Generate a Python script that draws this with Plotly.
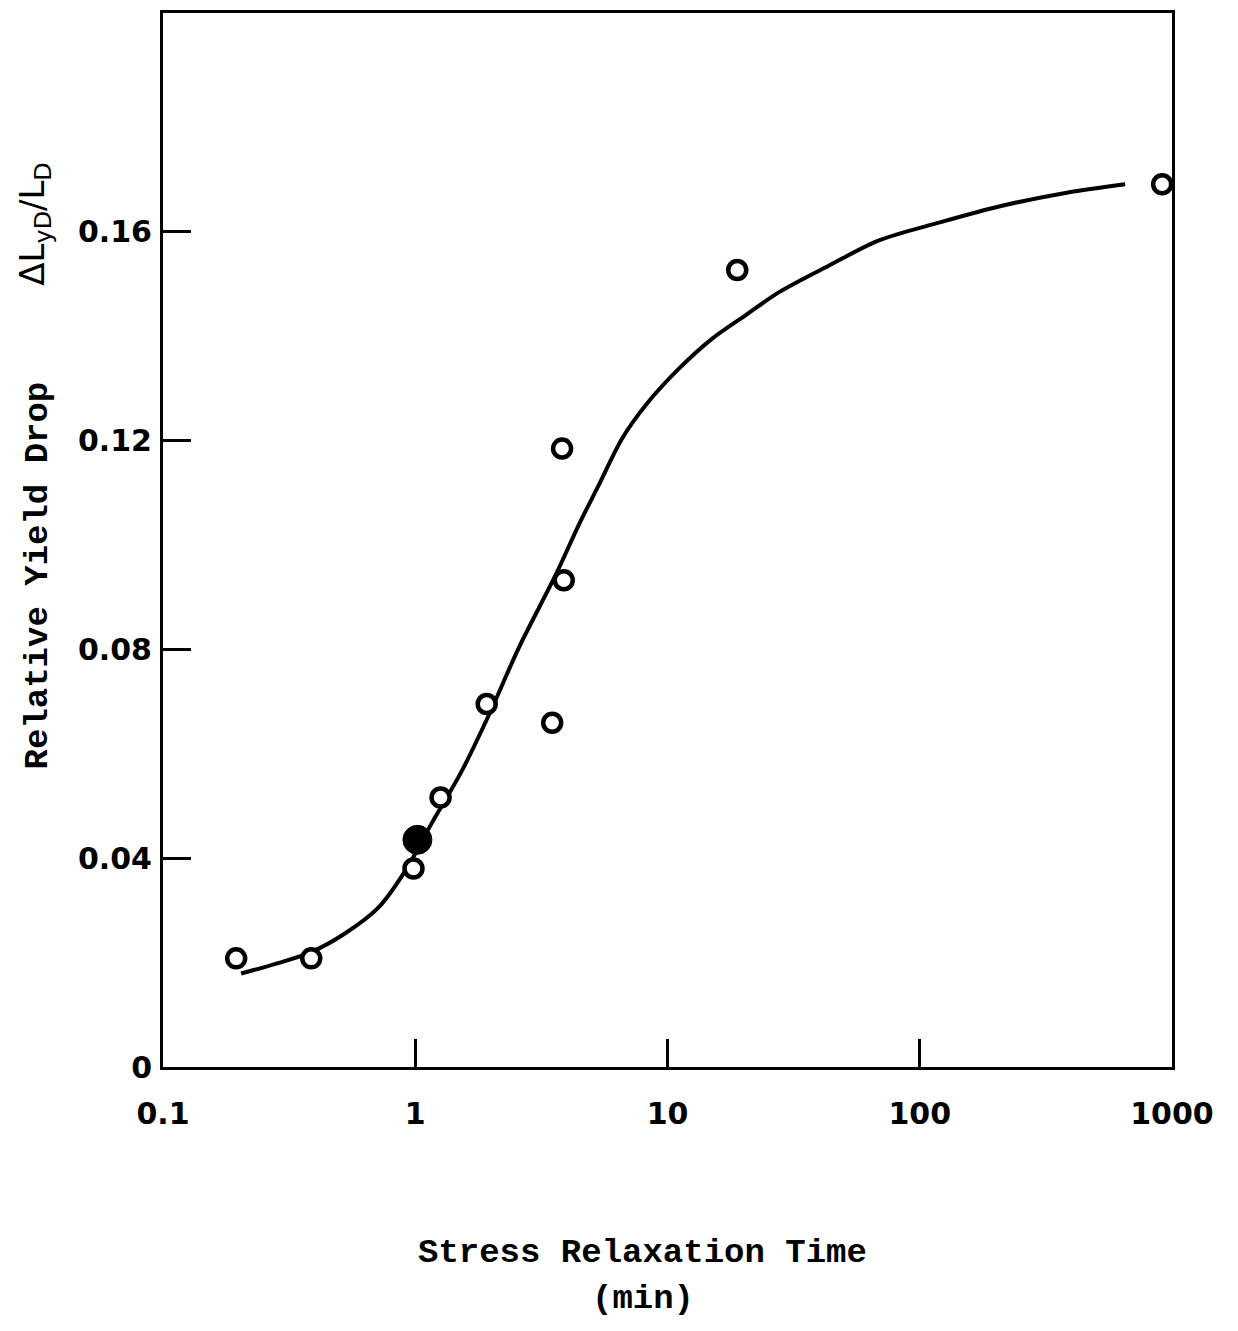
import plotly.graph_objects as go

# Measured data points (stress relaxation time in min, relative yield drop)
time_open = [0.195, 0.387, 0.984, 1.26, 1.92, 3.49, 3.88, 3.82, 18.9, 914]
drop_open = [0.0208, 0.0208, 0.0380, 0.0516, 0.0695, 0.0659, 0.0932, 0.1184, 0.1526, 0.1690]

time_filled = [1.02]
drop_filled = [0.0435]

# Hand-drawn fitted curve
curve_time = [0.204, 0.286, 0.387, 0.528, 0.714, 0.914, 1.16, 1.53, 1.95, 2.57,
              3.61, 4.46, 5.35, 6.60, 8.22, 11.1, 15.0, 20.5, 27.8, 43.9, 69.3,
              120, 208, 383, 652]
curve_drop = [0.0179, 0.0199, 0.0220, 0.0256, 0.0305, 0.0376, 0.0466, 0.0567, 0.0672, 0.0802,
              0.0943, 0.1039, 0.1115, 0.1203, 0.1268, 0.1337, 0.1394, 0.1440, 0.1484, 0.1535,
              0.1583, 0.1617, 0.1648, 0.1674, 0.1690]

x_tickvals = [0.1, 1, 10, 100, 1000]
x_ticktext = ["0.1", "1", "10", "100", "1000"]
y_tickvals = [0, 0.04, 0.08, 0.12, 0.16]
y_ticktext = ["0", "0.04", "0.08", "0.12", "0.16"]

fig = go.Figure()

fig.add_trace(go.Scatter(
    x=curve_time, y=curve_drop, mode="lines",
    line=dict(color="black", width=4, shape="spline", smoothing=0.9),
    showlegend=False, hoverinfo="skip"))

fig.add_trace(go.Scatter(
    x=time_open, y=drop_open, mode="markers",
    marker=dict(symbol="circle", size=18, color="white",
                line=dict(color="black", width=4.5)),
    showlegend=False))

fig.add_trace(go.Scatter(
    x=time_filled, y=drop_filled, mode="markers",
    marker=dict(symbol="circle", size=29, color="black",
                line=dict(color="black", width=1)),
    showlegend=False))

tickfont = dict(family="DejaVu Sans", size=30, color="black", weight="bold")

fig.update_xaxes(
    type="log", range=[-1, 3],
    tickvals=x_tickvals, ticktext=x_ticktext,
    ticks="inside", ticklen=28, tickwidth=2.5, tickcolor="black",
    showline=True, linewidth=3, linecolor="black", mirror=True,
    showgrid=False, zeroline=False,
    tickfont=tickfont, ticklabelstandoff=18)

fig.update_yaxes(
    range=[0, 0.2018],
    tickvals=y_tickvals, ticktext=y_ticktext,
    ticks="inside", ticklen=28, tickwidth=2.5, tickcolor="black",
    showline=True, linewidth=3, linecolor="black", mirror=True,
    showgrid=False, zeroline=False,
    tickfont=tickfont, ticklabelstandoff=2)

mono = dict(family="Liberation Mono", size=34, color="black", weight="bold")

fig.add_annotation(text="Stress Relaxation Time", xref="paper", yref="paper",
                   x=0.4757, y=-0.176, showarrow=False, font=mono,
                   xanchor="center", yanchor="middle")
fig.add_annotation(text="(min)", xref="paper", yref="paper",
                   x=0.4757, y=-0.2204, showarrow=False, font=mono,
                   xanchor="center", yanchor="middle")
fig.add_annotation(text="Relative Yield Drop", xref="paper", yref="paper",
                   x=-0.1239, y=0.4664, showarrow=False, font=mono, textangle=-90,
                   xanchor="center", yanchor="middle")
fig.add_annotation(text="\u0394L<sub>yD</sub>/L<sub>D</sub>", xref="paper", yref="paper",
                   x=-0.127, y=0.80, showarrow=False,
                   font=dict(family="DejaVu Sans", size=34, color="black"), textangle=-90,
                   xanchor="center", yanchor="middle")

fig.update_layout(
    width=1222, height=1315,
    margin=dict(l=155, r=58, t=2, b=256),
    paper_bgcolor="white", plot_bgcolor="white",
    showlegend=False)

fig.write_html("out.html")
